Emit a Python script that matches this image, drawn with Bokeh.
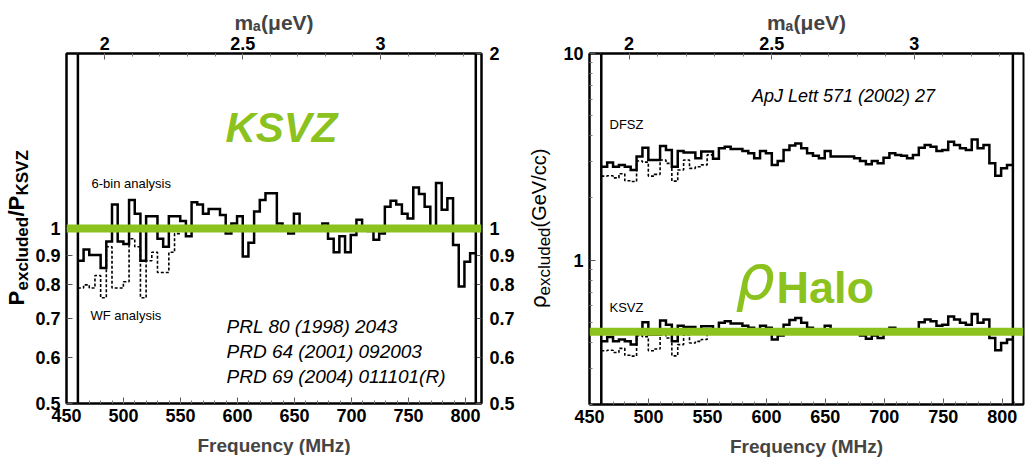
import numpy as np
from math import pi
from bokeh.plotting import figure
from bokeh.layouts import row
from bokeh.models import (Range1d, LinearAxis, LogAxis, FixedTicker, Label, Span,
                          CustomJSTickFormatter)
from bokeh.core.properties import value
from bokeh.embed import file_html
from bokeh.resources import INLINE

# ---------------- data ----------------
SCAN_START_MHZ = 460.0
SCAN_STOP_MHZ = 809.0
MHZ_PER_UEV = 241.8
KSVZ_REFERENCE = 1.0
RHO_HALO = 0.45

freq_ticks = [450, 500, 550, 600, 650, 700, 750, 800]
mass_ticks = [2, 2.5, 3]
ratio_ticks_left = [0.5, 0.6, 0.7, 0.8, 0.9, 1]
ratio_ticks_right = [0.5, 0.6, 0.7, 0.8, 0.9, 1, 2]
rho_ticks = [1, 10]

# P_excluded / P_KSVZ, 6-bin analysis (one value per ~5 MHz bin)
ratio_6bin = [0.88, 0.92, 0.90, 0.90, 0.855, 0.95, 1.10, 0.95, 0.94, 1.12,
              1.06, 0.88, 1.05, 1.05, 0.96, 0.93, 1.05, 1.05, 1.03, 0.97,
              1.11, 1.10, 1.06, 1.08, 1.08, 1.055, 0.98, 1.02, 1.05, 0.895,
              0.945, 1.07, 1.12, 1.15, 1.15, 1.02, 1.00, 0.98, 1.06, 1.00,
              1.00, 1.00, 1.00, 1.02, 0.96, 0.91, 0.97, 0.91, 0.975, 1.035,
              1.00, 0.99, 0.956, 0.98, 1.09, 1.116, 1.10, 1.06, 1.04, 1.176,
              1.146, 1.09, 1.00, 1.197, 1.077, 1.127, 0.937, 0.795, 0.877, 0.907]
# P_excluded / P_KSVZ, WF analysis (low-frequency part only)
ratio_wf = [0.79, 0.80, 0.79, 0.83, 0.76, 0.93, 0.79, 0.79, 0.81, 0.96,
            0.93, 0.76, 0.88, 0.91, 0.84, 0.84, 0.91, 0.98, 1.00]

# rho_excluded (GeV/cc), DFSZ coupling
rho_dfsz_6bin = [2.83, 2.97, 2.83, 2.89, 2.83, 2.73, 3.17, 3.50, 3.05, 3.05,
                 3.57, 3.41, 2.83, 3.37, 3.32, 3.32, 3.11, 3.35, 3.35, 3.09,
                 3.48, 3.54, 3.45, 3.45, 3.37, 3.29, 3.11, 3.37, 3.29, 2.89,
                 3.02, 3.41, 3.59, 3.67, 3.48, 3.29, 3.20, 3.11, 3.37, 3.17,
                 3.17, 3.17, 3.17, 3.11, 3.02, 2.91, 3.02, 2.94, 3.13, 3.29,
                 3.23, 3.20, 3.11, 3.23, 3.50, 3.61, 3.54, 3.37, 3.41, 3.74,
                 3.61, 3.48, 3.41, 3.84, 3.48, 3.61, 2.94, 2.56, 2.78, 2.89]
rho_dfsz_wf = [2.55, 2.56, 2.50, 2.62, 2.42, 2.40, 3.02, 2.98, 2.55, 2.60,
               3.05, 2.94, 2.41, 2.73, 3.05, 2.78, 2.83, 2.89, 3.23]
# rho_excluded (GeV/cc), KSVZ coupling
rho_ksvz_6bin = [0.405, 0.424, 0.405, 0.413, 0.405, 0.390, 0.453, 0.500, 0.436, 0.436,
                 0.510, 0.487, 0.405, 0.481, 0.474, 0.474, 0.444, 0.479, 0.479, 0.441,
                 0.497, 0.506, 0.493, 0.493, 0.481, 0.470, 0.444, 0.481, 0.470, 0.413,
                 0.431, 0.487, 0.513, 0.524, 0.497, 0.470, 0.457, 0.444, 0.481, 0.453,
                 0.453, 0.453, 0.453, 0.444, 0.431, 0.416, 0.431, 0.420, 0.447, 0.470,
                 0.461, 0.457, 0.444, 0.461, 0.500, 0.516, 0.506, 0.481, 0.487, 0.534,
                 0.516, 0.497, 0.487, 0.549, 0.497, 0.516, 0.420, 0.366, 0.397, 0.413]
rho_ksvz_wf = [0.364, 0.366, 0.357, 0.374, 0.346, 0.343, 0.431, 0.426, 0.364, 0.371,
               0.436, 0.420, 0.344, 0.390, 0.436, 0.397, 0.404, 0.413, 0.461]

# ---------------- style ----------------
GREEN = "#8cc21e"
FONT = "Liberation Sans"
ORIGIN = 2          # page pixel where the layout starts
FIG_H = 452
edges = np.linspace(SCAN_START_MHZ, SCAN_STOP_MHZ, len(ratio_6bin) + 1)


def step_xy(vals):
    n = len(vals)
    return list(edges[:n + 1]), list(vals) + [vals[-1]]


def style_axis(ax, size="18px"):
    ax.major_label_text_font = FONT
    ax.major_label_text_font_style = "bold"
    ax.major_label_text_font_size = size
    ax.major_label_text_color = "black"
    ax.major_tick_in = 6
    ax.major_tick_out = 0
    ax.minor_tick_in = 3
    ax.minor_tick_out = 0
    ax.axis_line_width = 2
    ax.major_tick_line_color = "#555555"
    ax.minor_tick_line_color = "#777777"
    ax.axis_label_text_font = FONT
    ax.axis_label_text_font_style = "bold"
    ax.axis_label_text_font_size = "19px"


def txt(p, x, y, text, size, style="normal", color="black", align="left",
        baseline="alphabetic", angle=0, font=FONT):
    p.add_layout(Label(x=x, y=y, text=text, text_font=font, text_font_size=f"{size}px",
                       text_font_style=style, text_color=color, text_align=align,
                       text_baseline=baseline, angle=angle))


def side_fig(x0, x1, top, frame_h):
    # blank strip whose frame is aligned with the neighbouring plot frame;
    # data coordinates are page pixels (y negated)
    f = figure(title=None, frame_width=x1 - x0, frame_height=frame_h,
               x_range=Range1d(x0, x1), y_range=Range1d(-(top + frame_h), -top),
               output_backend="svg", toolbar_location=None, min_border_left=0,
               min_border_right=0, min_border_top=top - ORIGIN,
               min_border_bottom=FIG_H - frame_h - (top - ORIGIN),
               x_axis_location=None, y_axis_location=None, outline_line_color=None,
               background_fill_color="white", border_fill_color="white")
    f.xgrid.visible = False
    f.ygrid.visible = False
    return f


def vtext(f, x, y, text, size, style="bold", font=FONT):
    f.text(x=[x], y=[-y], text=[text], angle=pi / 2, text_font=value(font),
           text_font_size=value(f"{size}px"), text_font_style=style,
           text_align="left", text_baseline="middle", text_color="black")


fmt_num = CustomJSTickFormatter(code="return (Math.round(tick*10)/10).toString();")

# ================= left panel =================
LX0, LX1, LFW = 450.0, 814.0, 415
LY0, LY1, LFH = 0.5, 2.0, 350
LLEFT, LTOP = 68, 52
AUXL = (ORIGIN, 33)


def lx(px):
    return LX0 + (px - LLEFT) * (LX1 - LX0) / LFW


def ly(py):
    return LY1 * (LY0 / LY1) ** ((py - LTOP) / LFH)


pl = figure(frame_width=LFW, frame_height=LFH, x_range=Range1d(LX0, LX1),
            y_range=Range1d(LY0, LY1), y_axis_type="log", output_backend="svg",
            toolbar_location=None, min_border_left=LLEFT - AUXL[1], min_border_right=38,
            min_border_top=LTOP - ORIGIN, min_border_bottom=FIG_H - LFH - (LTOP - ORIGIN),
            background_fill_color="white", border_fill_color="white",
            outline_line_color="black", outline_line_width=2)
pl.xgrid.visible = False
pl.ygrid.visible = False
pl.extra_x_ranges = {"mass": Range1d(LX0 / MHZ_PER_UEV, LX1 / MHZ_PER_UEV)}

pl.xaxis.ticker = FixedTicker(ticks=freq_ticks, minor_ticks=list(range(450, 815, 10)))
pl.xaxis.axis_label = "Frequency (MHz)"
pl.yaxis.ticker = FixedTicker(ticks=ratio_ticks_left)
pl.yaxis.formatter = fmt_num
for ax in pl.xaxis + pl.yaxis:
    style_axis(ax)
pl.xaxis.major_label_standoff = 5
pl.xaxis.axis_label_standoff = 10
pl.yaxis.major_label_standoff = 6

ra = LogAxis(ticker=FixedTicker(ticks=ratio_ticks_right), formatter=fmt_num)
style_axis(ra)
ra.major_label_standoff = 8
pl.add_layout(ra, "right")

ta = LinearAxis(x_range_name="mass", ticker=FixedTicker(
    ticks=mass_ticks, minor_ticks=[round(1.9 + 0.1 * i, 1) for i in range(15)]),
    formatter=fmt_num, axis_label="m\u2090(\u03bceV)")
style_axis(ta)
ta.axis_label_text_font_size = "21px"
ta.major_label_standoff = 4
ta.axis_label_standoff = 0
pl.add_layout(ta, "above")

pl.add_layout(Span(location=SCAN_START_MHZ, dimension="height", line_color="black", line_width=2.5))
pl.add_layout(Span(location=SCAN_STOP_MHZ, dimension="height", line_color="black", line_width=2.5))

x, y = step_xy(ratio_wf)
pl.step(x, y, mode="after", line_color="black", line_width=1.6, line_dash="3 2")
x, y = step_xy(ratio_6bin)
pl.step(x, y, mode="after", line_color="black", line_width=2.5, line_join="miter")
pl.add_layout(Span(location=KSVZ_REFERENCE, dimension="width", line_color=GREEN, line_width=8))

txt(pl, lx(283), ly(126), "KSVZ", 42, "bold italic", GREEN, "center", "middle")
txt(pl, lx(93), ly(182), "6-bin analysis", 13, baseline="middle")
txt(pl, lx(92), ly(314), "WF analysis", 13, baseline="middle")
txt(pl, lx(228), ly(325), "PRL 80 (1998) 2043", 19, "italic", baseline="middle")
txt(pl, lx(228), ly(350), "PRD 64 (2001) 092003", 19, "italic", baseline="middle")
txt(pl, lx(228), ly(375), "PRD 69 (2004) 011101(R)", 19, "italic", baseline="middle")

# left axis title  P_excluded / P_KSVZ  (rotated, in its own strip)
auxl = side_fig(AUXL[0], AUXL[1], LTOP, LFH)
vtext(auxl, 18, 304, "P", 22)
vtext(auxl, 24, 289, "excluded", 17)
vtext(auxl, 18, 215, "/P", 22)
vtext(auxl, 24, 194, "KSVZ", 17)

# ================= right panel =================
RX0, RX1, RFW = 450.0, 818.0, 434
RY0, RY1, RFH = 0.2, 10.0, 351
RLEFT, RTOP = 591, 55
AUXR = (LLEFT + LFW + 38, 559)


def rx(px):
    return RX0 + (px - RLEFT) * (RX1 - RX0) / RFW


def ry(py):
    return RY1 * (RY0 / RY1) ** ((py - RTOP) / RFH)


pr = figure(frame_width=RFW, frame_height=RFH, x_range=Range1d(RX0, RX1),
            y_range=Range1d(RY0, RY1), y_axis_type="log", output_backend="svg",
            toolbar_location=None, min_border_left=RLEFT - AUXR[1], min_border_right=2,
            min_border_top=RTOP - ORIGIN, min_border_bottom=FIG_H - RFH - (RTOP - ORIGIN),
            background_fill_color="white", border_fill_color="white",
            outline_line_color="black", outline_line_width=2)
pr.xgrid.visible = False
pr.ygrid.visible = False
pr.extra_x_ranges = {"mass": Range1d(RX0 / MHZ_PER_UEV, RX1 / MHZ_PER_UEV)}
pr.xaxis.ticker = FixedTicker(ticks=freq_ticks, minor_ticks=list(range(450, 819, 10)))
pr.xaxis.axis_label = "Frequency (MHz)"
pr.yaxis.ticker = FixedTicker(ticks=rho_ticks, minor_ticks=[0.2, 0.3, 0.4, 0.5, 0.6, 0.7, 0.8, 0.9,
                                                          2, 3, 4, 5, 6, 7, 8, 9])
pr.yaxis.formatter = fmt_num
for ax in pr.xaxis + pr.yaxis:
    style_axis(ax)
pr.xaxis.major_label_standoff = 5
pr.xaxis.axis_label_standoff = 10
pr.yaxis.major_label_standoff = 6

ta2 = LinearAxis(x_range_name="mass", ticker=FixedTicker(
    ticks=mass_ticks, minor_ticks=[round(1.9 + 0.1 * i, 1) for i in range(16)]),
    formatter=fmt_num, axis_label="m\u2090(\u03bceV)")
style_axis(ta2)
ta2.axis_label_text_font_size = "21px"
ta2.major_label_standoff = 4
ta2.axis_label_standoff = 0
pr.add_layout(ta2, "above")

pr.add_layout(Span(location=SCAN_START_MHZ, dimension="height", line_color="black", line_width=2.5))
pr.add_layout(Span(location=SCAN_STOP_MHZ, dimension="height", line_color="black", line_width=2.5))

for wf, sb in ((rho_dfsz_wf, rho_dfsz_6bin), (rho_ksvz_wf, rho_ksvz_6bin)):
    x, y = step_xy(wf)
    pr.step(x, y, mode="after", line_color="black", line_width=1.6, line_dash="3 2")
    x, y = step_xy(sb)
    pr.step(x, y, mode="after", line_color="black", line_width=2.5, line_join="miter")
pr.add_layout(Span(location=RHO_HALO, dimension="width", line_color=GREEN, line_width=8))

txt(pr, rx(845), ry(97), "ApJ Lett 571 (2002) 27", 18, "italic", align="center", baseline="middle")
txt(pr, rx(611), ry(126), "DFSZ", 13, baseline="middle")
txt(pr, rx(611), ry(309), "KSVZ", 13, baseline="middle")
txt(pr, rx(737), ry(279), "\u03c1", 62, "italic", GREEN, font="DejaVu Sans")
txt(pr, rx(778), ry(289), "Halo", 45, "bold", GREEN)

auxr = side_fig(AUXR[0], AUXR[1], RTOP, RFH)
vtext(auxr, 540, 310, "\u03c1", 21, "normal", font="DejaVu Sans")
vtext(auxr, 546, 297, "excluded", 17, "normal")
vtext(auxr, 540, 229, "(GeV/cc)", 20, "normal")

layout = row(auxl, pl, auxr, pr)
open("out.html", "w").write(file_html(layout, INLINE))
